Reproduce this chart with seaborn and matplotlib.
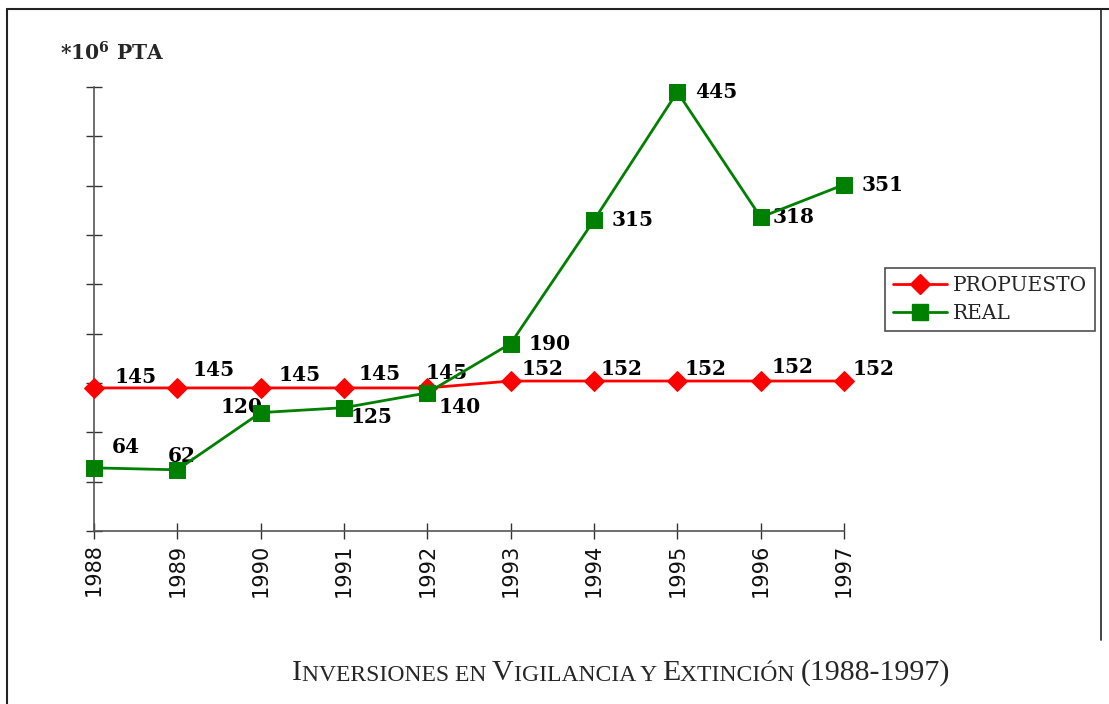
import matplotlib
matplotlib.use("Agg")
import matplotlib.pyplot as plt
import seaborn as sns
import pandas as pd
from matplotlib.lines import Line2D

# data
years = [1988, 1989, 1990, 1991, 1992, 1993, 1994, 1995, 1996, 1997]
propuesto = [145, 145, 145, 145, 145, 152, 152, 152, 152, 152]
real = [64, 62, 120, 125, 140, 190, 315, 445, 318, 351]

# label offsets in points (dx, dy) relative to each point
off_prop = [(30, 8), (26, 13), (28, 9), (26, 10), (14, 11), (23, 9), (20, 9), (20, 9), (23, 10), (21, 9)]
off_real = [(23, 15), (3, 10), (-14, 4), (20, -7), (23, -10), (28, 0), (28, 0), (28, 0), (24, 0), (28, 0)]

df = pd.DataFrame({"year": years + years,
                   "value": propuesto + real,
                   "serie": ["PROPUESTO"] * len(years) + ["REAL"] * len(years)})

sns.set_style("ticks")
plt.rcParams["mathtext.fontset"] = "dejavuserif"
fig = plt.figure(figsize=(11.09, 7.04), dpi=100)
ax = fig.add_axes([94 / 1109, 1 - 531 / 704, 750 / 1109, 444 / 704])

sns.lineplot(data=df[df.serie == "PROPUESTO"], x="year", y="value", ax=ax,
             color="#ff0000", marker="D", markersize=10, linewidth=2,
             markeredgecolor="#ff0000", label="PROPUESTO", clip_on=False, zorder=3)
sns.lineplot(data=df[df.serie == "REAL"], x="year", y="value", ax=ax,
             color="#008000", marker="s", markersize=12, linewidth=2,
             markeredgecolor="#008000", label="REAL", clip_on=False, zorder=4)

lab_font = dict(family="DejaVu Serif", weight="bold", size=14.5, color="black")
for x, v, (dx, dy) in zip(years, propuesto, off_prop):
    ax.annotate(str(v), (x, v), xytext=(dx, dy), textcoords="offset points",
                ha="center", va="center", **lab_font)
for x, v, (dx, dy) in zip(years, real, off_real):
    ax.annotate(str(v), (x, v), xytext=(dx, dy), textcoords="offset points",
                ha="center", va="center", **lab_font)

ax.set_xlim(1988, 1997)
ax.set_ylim(0, 450)
ax.set_xticks(years)
ax.set_xticklabels([str(y) for y in years], rotation=90, fontsize=15,
                   family="DejaVu Sans", color="#111111")
ax.set_yticks(range(0, 451, 50))
ax.set_yticklabels([])
ax.tick_params(axis="both", direction="inout", length=12, width=1, color="#333333",
               bottom=True, left=True)
ax.tick_params(axis="x", pad=3)
for s in ["top", "right"]:
    ax.spines[s].set_visible(False)
for s in ["left", "bottom"]:
    ax.spines[s].set_color("#555555")
    ax.spines[s].set_linewidth(1.2)
ax.set_xlabel("")
ax.set_ylabel("")

handles = [Line2D([], [], color="#ff0000", marker="D", markersize=10, linewidth=2),
           Line2D([], [], color="#008000", marker="s", markersize=12, linewidth=2)]
leg = ax.legend(handles, ["PROPUESTO", "REAL"], loc="upper left",
                bbox_to_anchor=(885 / 1109, 1 - 268 / 704), bbox_transform=fig.transFigure,
                borderaxespad=0, frameon=True, fancybox=False, edgecolor="#222222",
                handlelength=2.7, handletextpad=0.25, borderpad=0.4, labelspacing=0.45,
                prop={"family": "DejaVu Serif", "size": 14.5})
leg.get_frame().set_linewidth(1.2)

# y unit label
fig.text(60 / 1109, 1 - 53 / 704, r"*10$^{\mathbf{6}}$ PTA", family="DejaVu Serif",
         weight="bold", size=14.5, va="center", ha="left")

# title in small caps, built piece by piece
big, small = 21.5, 17
pieces = [("I", big), ("NVERSIONES EN ", small), ("V", big), ("IGILANCIA Y ", small),
          ("E", big), ("XTINCIÓN ", small), ("(1988-1997)", big)]
prev = fig.text(292 / 1109, 1 - 680 / 704, pieces[0][0], family="Liberation Serif",
                size=pieces[0][1], ha="left", va="baseline")
for txt, sz in pieces[1:]:
    prev = ax.annotate(txt, xy=(1, 0), xycoords=prev, ha="left", va="bottom",
                       family="Liberation Serif", size=sz, annotation_clip=False)

# border frame around figure
fig.add_artist(Line2D([7 / 1109, 7 / 1109], [0, 1 - 9 / 704], transform=fig.transFigure,
                      color="#222222", linewidth=1.5))
fig.add_artist(Line2D([7 / 1109, 1], [1 - 9 / 704, 1 - 9 / 704], transform=fig.transFigure,
                      color="#222222", linewidth=1.5))
fig.add_artist(Line2D([1101 / 1109, 1101 / 1109], [1 - 640 / 704, 1 - 9 / 704],
                      transform=fig.transFigure, color="#222222", linewidth=1.2))

fig.savefig("out.png", dpi=100)
